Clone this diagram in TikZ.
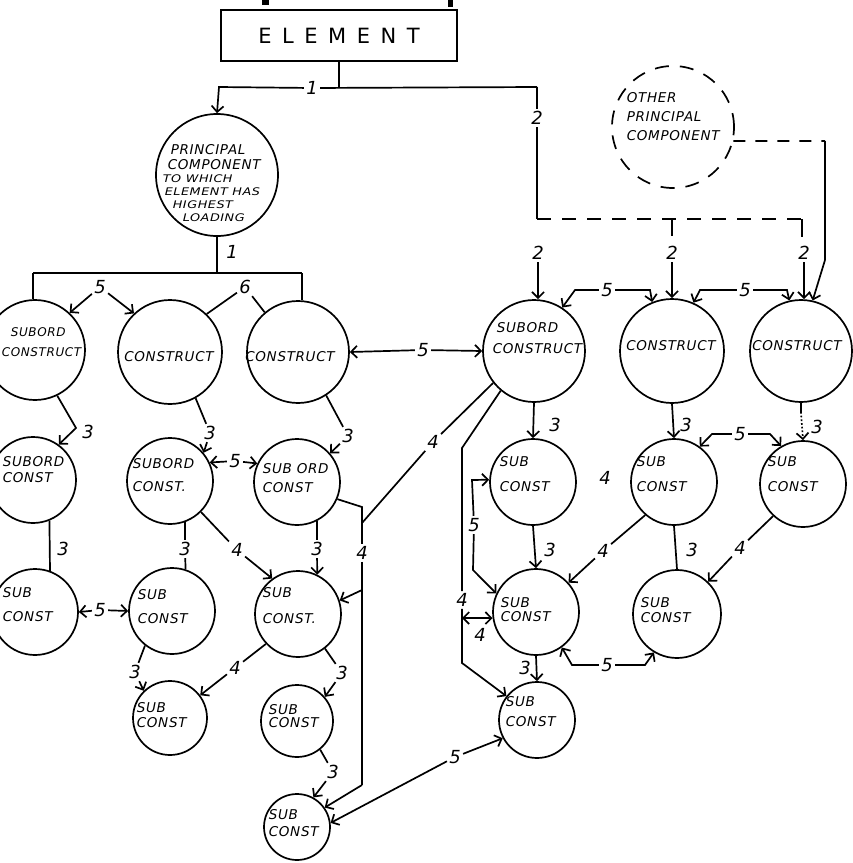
\documentclass[tikz,border=0pt]{standalone}
\usepackage{fontspec}
\setmainfont{DejaVu Sans}
\newfontfamily\hand[LetterSpace=5]{DejaVu Sans}
\newfontfamily\handw[LetterSpace=5,FakeStretch=1.22]{DejaVu Sans}
\newfontfamily\elfont[LetterSpace=50]{DejaVu Sans}
\usetikzlibrary{arrows.meta}
\begin{document}
\begin{tikzpicture}[x=1pt,y=-1pt,line width=1.7pt,
  >={Straight Barb[length=6pt,width=12pt]},
  cnode/.style={circle,draw,inner sep=0pt},
  ctxt/.style={font=\hand\itshape\fontsize{13.5}{15}\selectfont,align=left,inner sep=0pt,anchor=west},
  ctxc/.style={font=\hand\itshape\fontsize{13.5}{15}\selectfont,align=center,inner sep=0pt},
  numlab/.style={font=\itshape\fontsize{18}{18}\selectfont,inner sep=1.5pt},
  dsh/.style={dash pattern=on 14pt off 11pt},
]
\useasboundingbox (0,0) rectangle (853,863);
\clip (0,0) rectangle (853,863);

% marks at the top edge
\fill (262,0) rectangle (269,5);
\fill (448,0) rectangle (453,7);

% ELEMENT box
\node[draw,minimum width=236pt,minimum height=51pt,inner sep=0pt] (el) at (339,35.5)
  {\elfont\fontsize{21}{21}\selectfont ELEMENT\hspace{12pt}};

% circles
\node[cnode,minimum size=122pt] (pc) at (217,175) {};
\node[cnode,dsh,minimum size=122pt] (opc) at (673,127) {};
\node[cnode,minimum size=100pt] (c1) at (35,350) {};
\node[cnode,minimum size=104pt] (c2) at (170,352) {};
\node[cnode,minimum size=102pt] (c3) at (298,352) {};
\node[cnode,minimum size=102pt] (c4) at (534,351) {};
\node[cnode,minimum size=104pt] (c5) at (672,351) {};
\node[cnode,minimum size=102pt] (c6) at (801,351) {};
\node[cnode,minimum size=86pt] (d1) at (33,480) {};
\node[cnode,minimum size=86pt] (d2) at (170,481) {};
\node[cnode,minimum size=86pt] (d3) at (297,482) {};
\node[cnode,minimum size=86pt] (d4) at (533,482) {};
\node[cnode,minimum size=86pt] (d5) at (674,482) {};
\node[cnode,minimum size=86pt] (d6) at (803,484) {};
\node[cnode,minimum size=86pt] (e1) at (35,612) {};
\node[cnode,minimum size=86pt] (e2) at (172,611) {};
\node[cnode,minimum size=86pt] (e3) at (298,614) {};
\node[cnode,minimum size=86pt] (e4) at (536,612) {};
\node[cnode,minimum size=88pt] (e5) at (677,614) {};
\node[cnode,minimum size=74pt] (f1) at (170,718) {};
\node[cnode,minimum size=72pt] (f2) at (297,721) {};
\node[cnode,minimum size=76pt] (f3) at (537,720) {};
\node[cnode,minimum size=66pt] (g1) at (297,827) {};

% circle texts
\node[font=\handw\itshape\fontsize{10.5}{13}\selectfont,align=left,inner sep=0pt,anchor=west] (pct) at (162,183)
  {\hspace*{8pt}{\hand\fontsize{13.5}{15}\selectfont PRINCIPAL}\\[2pt]\hspace*{5pt}{\hand\fontsize{13.5}{15}\selectfont COMPONENT}\\TO WHICH\\\hspace*{2pt}ELEMENT HAS\\\hspace*{10pt}HIGHEST\\\hspace*{20pt}LOADING};
\node[ctxt] (opct) at (626,117) {OTHER\\[4pt]PRINCIPAL\\[4pt]COMPONENT};
\node[ctxt,font=\hand\itshape\fontsize{12}{14}\selectfont] (c1t) at (1,342) {\hspace*{9pt}SUBORD\\[6pt]CONSTRUCT};
\node[ctxc] (c2t) at (169,357) {CONSTRUCT};
\node[ctxc] (c3t) at (290,357) {CONSTRUCT};
\node[ctxt] (c4t) at (492,338) {\hspace*{4pt}SUBORD\\[6pt]CONSTRUCT};
\node[ctxc] (c5t) at (671,346) {CONSTRUCT};
\node[ctxc] (c6t) at (797,346) {CONSTRUCT};
\node[ctxt] (d1t) at (2,470) {SUBORD\\[1pt]CONST};
\node[ctxt] (d2t) at (132,475) {SUBORD\\[8pt]CONST.};
\node[ctxt] (d3t) at (262,478) {SUB ORD\\[4pt]CONST};
\node[ctxt] (d4t) at (499,474) {SUB\\[10pt]CONST};
\node[ctxt] (d5t) at (636,474) {SUB\\[10pt]CONST};
\node[ctxt] (d6t) at (767,474) {SUB\\[10pt]CONST};
\node[ctxt] (e1t) at (2,605) {SUB\\[9pt]CONST};
\node[ctxt] (e2t) at (137,607) {SUB\\[9pt]CONST};
\node[ctxt] (e3t) at (262,606) {SUB\\[11pt]CONST.};
\node[ctxt] (e4t) at (500,610) {SUB\\[-1pt]CONST};
\node[ctxt] (e5t) at (640,610) {SUB\\[0pt]CONST};
\node[ctxt] (f1t) at (136,715) {SUB\\[0pt]CONST};
\node[ctxt] (f2t) at (268,716) {SUB\\[-2pt]CONST};
\node[ctxt] (f3t) at (505,712) {SUB\\[5pt]CONST};
\node[ctxt] (g1t) at (268,823) {SUB\\[2pt]CONST};

% ---- top connectors
\coordinate (tl) at (219,87);
\coordinate (tr) at (537,87);
\node[numlab] (n1a) at (312,88) {1};
\draw (el.south) -- (el.south |- tr);
\draw (tr) -- (n1a);
\draw[->] (n1a) -- (tl) -- (pc.north);
\node[numlab] (n2a) at (537,118) {2};
\draw (tr) -- (n2a);
\coordinate (tb) at (537,219);
\coordinate (tbr) at (808,219);
\draw (n2a) -- (tb);
\draw[dsh] (tb) -- (tbr);
\coordinate (tk1) at (672,219);
\coordinate (tk2) at (802,219);
\draw (tk1) -- ++(0,17);
\draw (tk2) -- ++(0,18);
\node[numlab] (n2b) at (538,253) {2};
\node[numlab] (n2c) at (672,253) {2};
\node[numlab] (n2d) at (804,253) {2};
\draw[->] (n2b) -- (n2b |- c4.north);
\draw[->] (n2c) -- (c5.north);
\draw[->] (n2d) -- (n2d |- c6.north);

% other principal component
\coordinate (o1) at (825,141);
\coordinate (o2) at (825,260);
\draw[dash pattern=on 12pt off 10pt] (opc.-13) -- (o1);
\draw[->] (o1) -- (o2) -- (c6.77);

% principal component down
\coordinate (hl) at (33,273);
\coordinate (hr) at (302,273);
\draw (pc.south) -- (pc.south |- hl);
\node[numlab] (n1b) at (232,252) {1};
\draw (hl) -- (hr);
\draw (hl) -- (hl |- c1.north);
\draw (hr) -- (hr |- c3.north);

% row 1 relations
\node[numlab] (n5a) at (100,287) {5};
\draw[->] (n5a) -- (c1.47);
\draw[->] (n5a) -- (c2.133);
\node[numlab] (n6) at (245,287) {6};
\draw (n6) -- (c2.46);
\draw (n6) -- (c3.130);
\node[numlab] (n5b) at (423,350) {5};
\draw[->] (n5b) -- (c3.east);
\draw[->] (n5b) -- (c4.west);
\node[numlab] (n5c) at (607,290) {5};
\draw[->] (n5c) -- (575,290) -- (c4.57);
\draw[->] (n5c) -- (650,290) -- (c5.112);
\node[numlab] (n5d) at (745,290) {5};
\draw[->] (n5d) -- (700,290) -- (c5.66);
\draw[->] (n5d) -- (787,290) -- (c6.103);

% row 1 -> row 2 (left)
\node[numlab] (n3a) at (88,432) {3};
\draw[->] (c1.-64) -- (76,428) -- (d1.54);
\node[numlab] (n3c) at (210,433) {3};
\draw (c2.-61) -- (n3c);
\draw[->] (n3c) -- (d2.40);
\node[numlab] (n3d) at (348,436) {3};
\draw (c3.-57) -- (n3d);
\draw[->] (n3d) -- (d3.41);
\node[numlab] (n5e) at (235,461) {5};
\draw[->] (n5e) -- (d2.25);
\draw[->] (n5e) -- (d3.155);

% "4" network
\coordinate (j4) at (362,523);
\draw (d3.-23) -- (362,507) -- (j4);
\node[numlab] (n4a) at (433,442) {4};
\draw (j4) -- (n4a);
\draw (n4a) -- (c4.218);
\node[numlab] (n4b) at (362,553) {4};
\draw (j4) -- (n4b);
\coordinate (jb) at (362,590);
\coordinate (jc) at (362,785);
\draw (n4b) -- (jc);
\draw[->] (jb) -- (e3.18);
\draw[->] (jc) -- (g1.35);

\node[numlab] (n4c) at (462,600) {4};
\draw (c4.230) -- (462,448) -- (n4c);
\coordinate (jd) at (462,618);
\coordinate (je) at (462,663);
\draw[->] (n4c) -- (je) -- (f3.142);
\draw[<->] (jd) -- (e4.188);
\node[numlab] (n4d) at (480,635) {4};

\node[numlab] (n5f) at (474,525) {5};
\draw[->] (n5f) -- (472,480) -- (d4.177);
\draw[->] (n5f) -- (473,570) -- (e4.155);

% row 1 -> row 2 (right)
\draw[->] (c4.south) -- (d4.north);
\node[numlab] (n3e) at (555,425) {3};
\draw[->] (c5.south) -- (d5.north);
\node[numlab] (n3f) at (686,425) {3};
\coordinate (k6) at (801,412);
\draw (c6.south) -- (k6);
\draw[dotted,->] (k6) -- (d6.north);
\node[numlab] (n3g) at (817,427) {3};
\node[numlab] (n5g) at (740,434) {5};
\draw[->] (n5g) -- (712,434) -- (d5.54);
\draw[->] (n5g) -- (770,434) -- (d6.120);
\node[numlab] (n4s) at (605,478) {4};

% row 2 -> row 3 (right)
\draw[->] (d4.south) -- (e4.north);
\node[numlab] (n3h) at (550,550) {3};
\node[numlab] (n4e) at (603,551) {4};
\draw (d5.229) -- (n4e);
\draw[->] (n4e) -- (e4.42);
\draw (d5.south) -- (e5.north);
\node[numlab] (n3i) at (692,550) {3};
\node[numlab] (n4f) at (740,548) {4};
\draw (d6.227) -- (n4f);
\draw[->] (n4f) -- (e5.46);
\node[numlab] (n5h) at (607,665) {5};
\draw[->] (n5h) -- (572,665) -- (e4.-54);
\draw[->] (n5h) -- (645,665) -- (e5.239);
\draw[->] (e4.south) -- (f3.north);
\node[numlab] (n3j) at (525,668) {3};
\node[numlab] (n5i) at (455,757) {5};
\draw[->] (n5i) -- (f3.208);
\draw[->] (n5i) -- (g1.7);

% row 2 -> row 3 (left)
\draw (d1.-68) -- (e1.70);
\node[numlab] (n3k) at (63,549) {3};
\node[numlab] (n5j) at (100,610) {5};
\draw[->] (n5j) -- (e1.east);
\draw[->] (n5j) -- (e2.west);
\node[numlab] (n3l) at (185,549) {3};
\draw (d2.-70) -- (n3l);
\draw (n3l) -- (e2.72);
\node[numlab] (n4g) at (237,550) {4};
\draw (d2.-45) -- (n4g);
\draw[->] (n4g) -- (e3.126);
\node[numlab] (n3m) at (317,549) {3};
\draw (d3.-63) -- (n3m);
\draw[->] (n3m) -- (e3.64);

% row 3 -> row 4 -> row 5 (left)
\node[numlab] (n3n) at (135,672) {3};
\draw (e2.232) -- (n3n);
\draw[->] (n3n) -- (f1.134);
\node[numlab] (n4h) at (235,668) {4};
\draw (e3.223) -- (n4h);
\draw[->] (n4h) -- (f1.37);
\node[numlab] (n3o) at (342,673) {3};
\draw (e3.-52) -- (n3o);
\draw[->] (n3o) -- (f2.41);
\node[numlab] (n3p) at (333,772) {3};
\draw (f2.-51) -- (n3p);
\draw[->] (n3p) -- (g1.61);
\end{tikzpicture}
\end{document}
